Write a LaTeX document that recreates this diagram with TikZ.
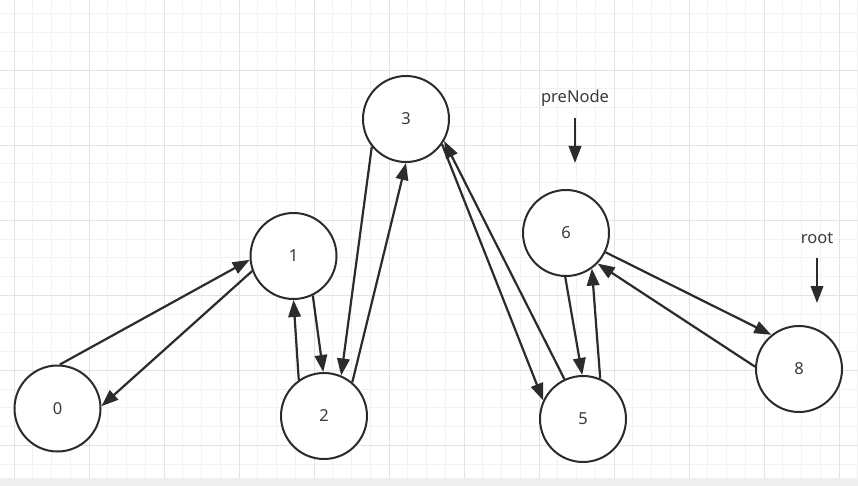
\documentclass[tikz,border=0pt]{standalone}
\usepackage{fontspec}
\setmainfont{Noto Sans}
\usetikzlibrary{arrows.meta}
\definecolor{ink}{HTML}{2B2B2B}
\definecolor{txt}{HTML}{3A3A3A}
\definecolor{minorgrid}{HTML}{F2F2F2}
\definecolor{majorgrid}{HTML}{E3E3E3}
\definecolor{band}{HTML}{EFEFEF}
\tikzset{
  vertex/.style={circle,draw=ink,line width=2pt,fill=white,minimum size=86pt,inner sep=0pt,text=txt,font=\fontsize{16.5}{19}\selectfont},
  tag/.style={text=txt,font=\fontsize{16.5}{19}\selectfont},
  edge/.style={draw=ink,line width=2.2pt,-{Triangle[length=17pt,width=12.5pt]}}
}
\begin{document}
\begin{tikzpicture}[x=1pt,y=-1pt]
\useasboundingbox (0,0) rectangle (858,486);
\fill[white] (0,0) rectangle (858,486);
\foreach \k in {0,...,45} {
  \pgfmathsetmacro{\gx}{14+18.75*\k}
  \draw[minorgrid,line width=1pt] (\gx,0) -- (\gx,478);
}
\foreach \k in {0,...,24} {
  \pgfmathsetmacro{\gy}{14+18.75*\k}
  \draw[minorgrid,line width=1pt] (0,\gy) -- (858,\gy);
}
\foreach \k in {0,4,...,44} {
  \pgfmathsetmacro{\gx}{14+18.75*\k}
  \draw[majorgrid,line width=1pt] (\gx,0) -- (\gx,478);
}
\foreach \k in {-1,3,...,23} {
  \pgfmathsetmacro{\gy}{14+18.75*\k}
  \draw[majorgrid,line width=1pt] (0,\gy) -- (858,\gy);
}
\fill[band] (0,478) rectangle (858,486);
\node[vertex] (n0) at (57.5,408.5) {0};
\node[vertex] (n1) at (293.5,256) {1};
\node[vertex] (n2) at (324,416) {2};
\node[vertex] (n3) at (406,119) {3};
\node[vertex] (n6) at (566,233) {6};
\node[vertex] (n5) at (583,419) {5};
\node[vertex] (n8) at (799,369) {8};
\node[tag] (pre) at (575,98) {preNode};
\node[tag] (root) at (817,238) {root};
\coordinate (preA) at (575,118);
\coordinate (preB) at (575,163);
\coordinate (rootA) at (817,258);
\coordinate (rootB) at (817,303);
\draw[edge] (preA) -- (preB);
\draw[edge] (rootA) -- (rootB);
\draw[edge] (n0.87) -- (n1.185);
\draw[edge] (n1.200) -- (n0.3);
\draw[edge] (n2.125) -- (n1.270);
\draw[edge] (n1.296) -- (n2.91);
\draw[edge] (n3.219) -- (n2.67);
\draw[edge] (n2.50) -- (n3.270);
\draw[edge] (n3.325) -- (n5.155);
\draw[edge] (n5.115) -- (n3.330);
\draw[edge] (n6.269) -- (n5.91);
\draw[edge] (n5.67) -- (n6.306);
\draw[edge] (n6.334) -- (n8.129);
\draw[edge] (n8.177) -- (n6.316);
\end{tikzpicture}
\end{document}
